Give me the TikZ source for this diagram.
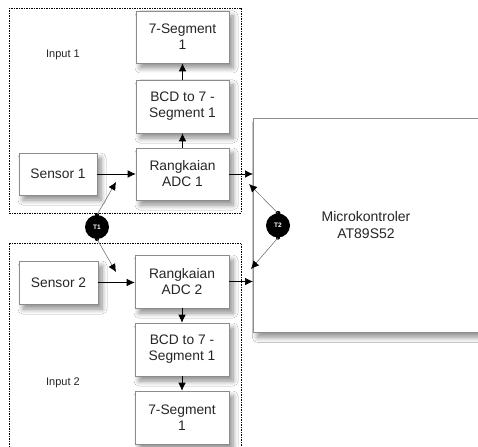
\documentclass[tikz,border=0pt]{standalone}
\usepackage{fontspec}
\setmainfont{Liberation Sans}
\usetikzlibrary{arrows.meta,shadows.blur}
\begin{document}
\begin{tikzpicture}[x=1pt,y=-1pt,
  box/.style={draw=black!45, fill=white, line width=0.6pt,
    blur shadow={shadow xshift=4pt, shadow yshift=-5pt, shadow blur steps=8, shadow blur radius=5pt, shadow opacity=45},
    align=center, font=\fontsize{13.8}{16}\selectfont, text=black!85, inner sep=0pt},
  group/.style={draw=black, line width=0.6pt, dash pattern=on 1.5pt off 1pt},
  conn/.style={-{Latex[length=8pt,width=7.5pt]}, line width=0.6pt},
  tline/.style={draw=black!60, line width=0.5pt, -{Latex[length=8pt,width=7.5pt,black]}},
  tnode/.style={circle, fill=black, minimum size=24pt, inner sep=0pt, text=white, font=\bfseries\fontsize{6.5}{7}\selectfont},
  lbl/.style={font=\fontsize{11}{13}\selectfont, text=black!85, inner sep=0pt},
  plain/.style={align=center, font=\fontsize{14}{17}\selectfont, text=black!85, inner sep=0pt}
]
\clip (0,0) rectangle (478,446);
\fill[white] (0,0) rectangle (478,446);
% groups
\draw[group] (9,8) rectangle (241,213);
\draw[group] (9,243) rectangle (241,452);
% microcontroller
\node[box, minimum width=250pt, minimum height=214pt, anchor=north west] (micro) at (253,118) {};
\node[plain] (microtext) at (366,225) {Microkontroler\\AT89S52};
% top chain
\node[box, minimum width=93pt, minimum height=52pt] (seg1) at (182.5,37) {7-Segment\\1};
\node[box, minimum width=93pt, minimum height=53pt] (bcd1) at (182.5,106.5) {BCD to 7 -\\Segment 1};
\node[box, minimum width=93pt, minimum height=52pt] (adc1) at (182.5,174) {Rangkaian\\ADC 1};
\node[box, minimum width=78pt, minimum height=42pt] (sens1) at (58,174) {Sensor 1};
% bottom chain
\node[box, minimum width=79pt, minimum height=43pt] (sens2) at (58.5,282.5) {Sensor 2};
\node[box, minimum width=94pt, minimum height=53pt] (adc2) at (182,281.5) {Rangkaian\\ADC 2};
\node[box, minimum width=94pt, minimum height=53pt] (bcd2) at (182,349.5) {BCD to 7 -\\Segment 1};
\node[box, minimum width=94pt, minimum height=53pt] (seg2) at (182,417.5) {7-Segment\\1};
% labels
\node[lbl] (in1) at (63,55) {Input 1};
\node[lbl] (in2) at (63,383) {Input 2};
% connectors
\draw[conn] (sens1.east) -- (adc1.west);
\draw[conn] (adc1.east) -- (adc1.east -| micro.west);
\draw[conn] (adc1.north) -- (bcd1.south);
\draw[conn] (bcd1.north) -- (seg1.south);
\draw[conn] (sens2.east) -- (sens2.east -| adc2.west);
\draw[conn] (adc2.east) -- (micro.west |- adc2.east);
\draw[conn] (adc2.south) -- (bcd2.north);
\draw[conn] (bcd2.south) -- (seg2.north);
% T nodes
\node[tnode] (t1) at (97,227) {T1};
\node[tnode] (t2) at (278,225.5) {T2};
\fill (t1.north) circle (2pt);
\fill (t1.south) circle (2pt);
\fill (t2.north) circle (2.5pt);
\fill (t2.south) circle (2pt);
\coordinate (t1a) at (116,182);
\coordinate (t1b) at (116,272);
\coordinate (t2a) at (249,184);
\coordinate (t2b) at (251,269);
\draw[tline] (t1.north) -- (t1a);
\draw[tline] (t1.south) -- (t1b);
\draw[tline] (t2.north) -- (t2a);
\draw[tline] (t2.south) -- (t2b);
\end{tikzpicture}
\end{document}
